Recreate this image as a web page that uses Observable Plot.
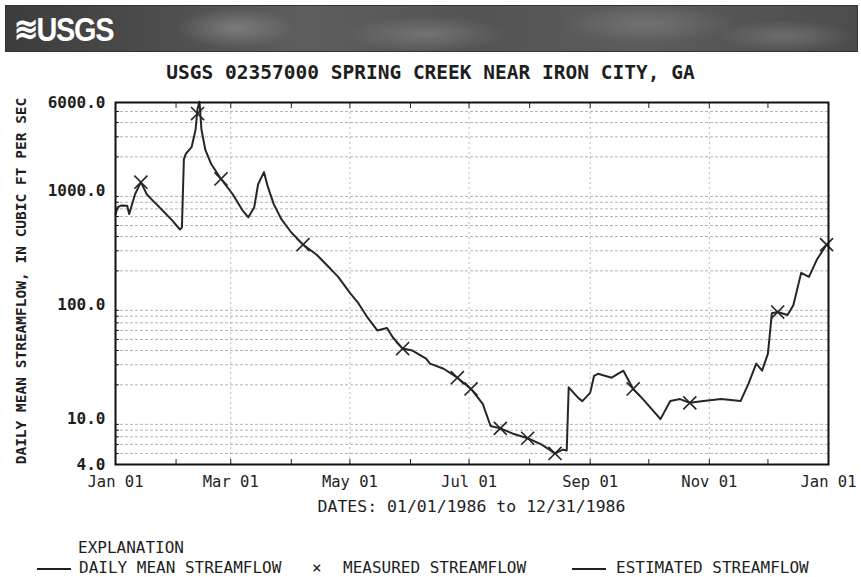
<!DOCTYPE html>
<html><head><meta charset="utf-8">
<script src="https://cdn.jsdelivr.net/npm/d3@7"></script>
<script src="https://cdn.jsdelivr.net/npm/@observablehq/plot@0.6"></script>
<style>
body{margin:0;background:#fff;width:861px;height:577px;overflow:hidden;position:relative;font-family:"DejaVu Sans Mono",monospace;color:#1e1e1e;}
#banner{position:absolute;left:5px;top:5px;width:851px;height:45px;
 background:
  radial-gradient(ellipse 60px 20px at 230px 22px, rgba(160,160,160,0.5), transparent),
  radial-gradient(ellipse 80px 18px at 420px 28px, rgba(150,150,150,0.45), transparent),
  radial-gradient(ellipse 90px 20px at 640px 18px, rgba(140,140,140,0.45), transparent),
  radial-gradient(ellipse 70px 16px at 780px 30px, rgba(150,150,150,0.4), transparent),
  linear-gradient(90deg,#3c3c3c 0%,#4a4a4a 15%,#5e5e5e 35%,#545454 55%,#5c5c5c 75%,#4c4c4c 100%);
 border:1px solid #333;}
#logo{position:absolute;left:8px;top:3px;color:#fff;font-family:"Liberation Sans Narrow","Liberation Sans",sans-serif;font-weight:bold;font-size:34px;letter-spacing:-1.5px;transform:scaleX(0.85);transform-origin:left center;}
#title{position:absolute;top:61px;left:0;width:861px;text-align:center;font-weight:bold;font-size:19.5px;}
#chart{position:absolute;left:0;top:85px;}
#ylab{position:absolute;left:21px;top:281px;transform:translate(-50%,-50%) rotate(-90deg);white-space:nowrap;font-weight:bold;font-size:14.5px;}
#xlab{position:absolute;top:497px;left:115px;width:713px;text-align:center;font-size:16.5px;}
#expl{position:absolute;top:538px;left:78px;font-size:16px;}
.lg{position:absolute;top:558px;font-size:16px;white-space:nowrap;}
.dash{position:absolute;top:568px;height:2px;background:#222;width:34px;}
</style></head>
<body>
<div id="banner"><div id="logo">≋USGS</div></div>
<div id="title">USGS 02357000 SPRING CREEK NEAR IRON CITY, GA</div>
<div id="chart"></div>
<div id="ylab">DAILY MEAN STREAMFLOW, IN CUBIC FT PER SEC</div>
<div id="xlab">DATES: 01/01/1986 to 12/31/1986</div>
<div id="expl">EXPLANATION</div>
<div class="dash" style="left:37px"></div>
<div class="lg" style="left:79px">DAILY MEAN STREAMFLOW</div>
<div class="lg" style="left:312px">×</div>
<div class="lg" style="left:343px">MEASURED STREAMFLOW</div>
<div class="dash" style="left:572px"></div>
<div class="lg" style="left:616px">ESTIMATED STREAMFLOW</div>
<script>
// Daily mean streamflow (cfs), 1986
const dailyDates = ["1986-01-01","1986-01-02","1986-01-04","1986-01-07","1986-01-08","1986-01-11","1986-01-14","1986-01-17","1986-01-20","1986-01-25","1986-01-30",
"1986-02-03","1986-02-04","1986-02-05","1986-02-06","1986-02-09","1986-02-11","1986-02-12","1986-02-13","1986-02-14","1986-02-16","1986-02-19","1986-02-24",
"1986-03-02","1986-03-07","1986-03-10","1986-03-13","1986-03-15","1986-03-18","1986-03-20","1986-03-23","1986-03-27",
"1986-04-01","1986-04-07","1986-04-14","1986-04-20","1986-04-25",
"1986-05-01","1986-05-05","1986-05-10","1986-05-15","1986-05-20","1986-05-23","1986-05-28",
"1986-06-02","1986-06-09","1986-06-11","1986-06-18","1986-06-25",
"1986-07-02","1986-07-08","1986-07-12","1986-07-17","1986-07-24","1986-07-31",
"1986-08-07","1986-08-14","1986-08-18","1986-08-20","1986-08-21","1986-08-26","1986-08-28",
"1986-09-01","1986-09-03","1986-09-05","1986-09-12","1986-09-18","1986-09-23","1986-09-28",
"1986-10-07","1986-10-12","1986-10-17","1986-10-22","1986-10-29",
"1986-11-07","1986-11-17","1986-11-21","1986-11-25","1986-11-28",
"1986-12-01","1986-12-03","1986-12-06","1986-12-11","1986-12-14","1986-12-18","1986-12-22","1986-12-26","1986-12-31"];
const dailyFlow = [626,720,750,745,630,940,1200,940,830,680,554,
461,480,1900,2125,2450,3470,5300,6100,3470,2300,1730,1280,
940,680,590,720,1150,1470,1090,770,565,
434,340,277,217,177,
128,106,78,60,63,52,41.6,
40,34,30.7,27.7,23.1,
18.4,13.6,8.7,8.3,7.4,6.8,
6.0,5.0,5.4,5.3,19,15.3,14.4,
17,24,25,23.1,26.6,18.4,15,
10,14.4,15,13.9,14.4,
15,14.4,20.4,30.7,26.6,
37.6,85,87,82,100,192,177,250,340];

// Measured streamflow (cfs)
const measuredDates = ["1986-01-14","1986-02-12","1986-02-24","1986-04-07","1986-05-28","1986-06-25","1986-07-02","1986-07-17","1986-07-31","1986-08-14","1986-09-23","1986-10-22","1986-12-06","1986-12-31"];
const measuredFlow = [1200,4800,1280,340,41.6,23.1,18.4,8.3,6.8,5.0,18.4,13.9,87,340];

// Axes
const yTicks = [4, 10, 100, 1000, 6000];
const yGrid = [5,6,7,8,9,20,30,40,50,60,70,80,90,200,300,400,500,600,700,800,900,2000,3000,4000,5000];
const xTicks = ["1986-01-01","1986-03-01","1986-05-01","1986-07-01","1986-09-01","1986-11-01","1987-01-01"];
const xGrid = ["1986-03-01","1986-05-01","1986-07-01","1986-09-01","1986-11-01"];
const monthTicks = ["1986-02-01","1986-03-01","1986-04-01","1986-05-01","1986-06-01","1986-07-01","1986-08-01","1986-09-01","1986-10-01","1986-11-01","1986-12-01"];

const daily = dailyDates.map((d,i)=>({date:new Date(d), flow:dailyFlow[i]}));
const measured = measuredDates.map((d,i)=>({date:new Date(d), flow:measuredFlow[i]}));
const blank = () => "";

const chart = Plot.plot({
  width: 861, height: 435,
  marginLeft: 115, marginRight: 33, marginTop: 17, marginBottom: 56,
  style: {fontFamily: "DejaVu Sans Mono, monospace", fontSize: "15px", color: "#1e1e1e", background: "transparent"},
  x: {type: "utc", domain: [new Date("1986-01-01"), new Date("1987-01-01")]},
  y: {type: "log", domain: [4, 6000]},
  marks: [
    Plot.gridY(yGrid, {stroke: "#777", strokeOpacity: 0.55, strokeDasharray: "3,2"}),
    Plot.gridX(xGrid.map(d=>new Date(d)), {stroke: "#777", strokeOpacity: 0.5, strokeDasharray: "2,3"}),
    Plot.axisX(xTicks.map(d=>new Date(d)), {tickFormat: d3.utcFormat("%b %d"), tickSize: 0, tickPadding: 11, fontSize: 15.5, label: null}),
    Plot.axisX(monthTicks.map(d=>new Date(d)), {tickFormat: blank, tickSize: -5, label: null, stroke: "#222"}),
    Plot.axisX(monthTicks.map(d=>new Date(d)), {anchor: "top", tickFormat: blank, tickSize: -5, label: null, stroke: "#222"}),
    Plot.axisY(yGrid, {tickFormat: blank, tickSize: -4, label: null, stroke: "#222"}),
    Plot.text(yTicks, {y: d => d, text: d => d.toFixed(1), frameAnchor: "left", dx: -10, textAnchor: "end", fontSize: 16, fontWeight: "bold"}),
    Plot.line(daily, {x: "date", y: "flow", stroke: "#262626", strokeWidth: 2}),
    Plot.dot(measured, {x: "date", y: "flow", symbol: "times", r: 6, stroke: "#262626", strokeWidth: 1.6}),
    Plot.frame({stroke: "#111", strokeWidth: 2})
  ]
});
document.getElementById("chart").appendChild(chart);
</script>
</body></html>
